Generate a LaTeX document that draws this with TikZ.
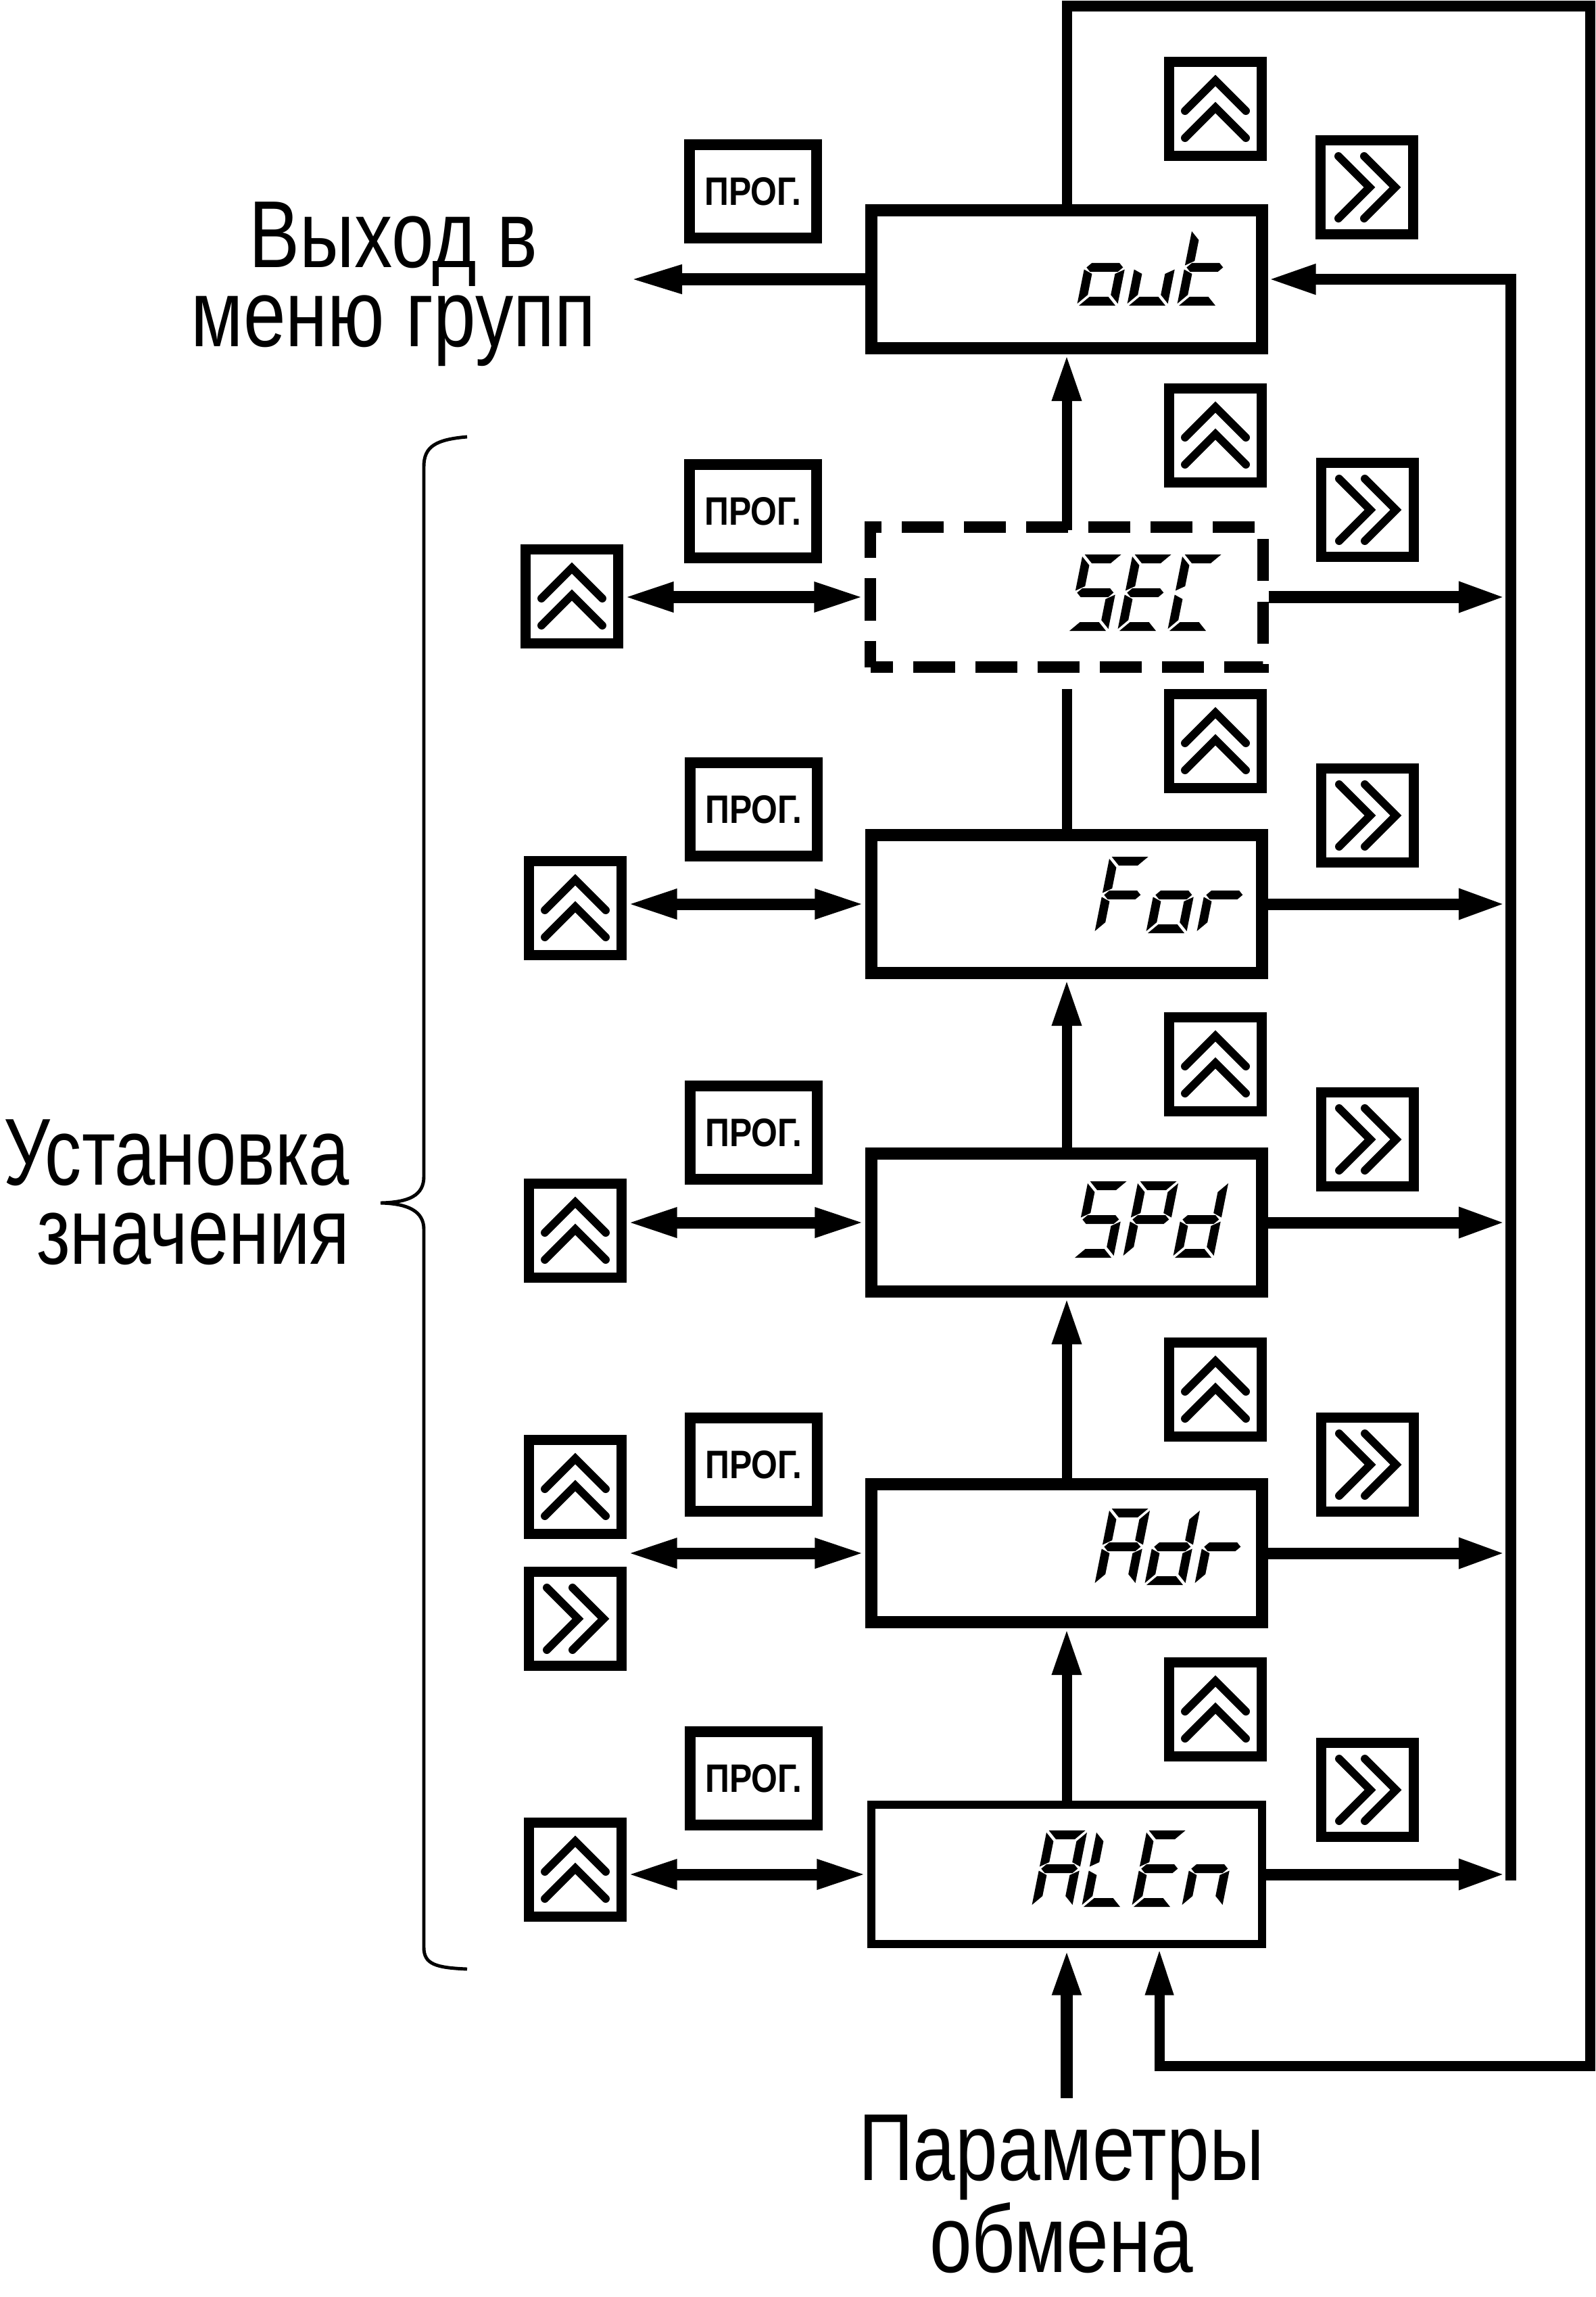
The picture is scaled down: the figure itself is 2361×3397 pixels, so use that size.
\documentclass[tikz,border=0pt]{standalone}
\usepackage{fontspec}
\setmainfont{Liberation Sans}
\newfontfamily\labfont[FakeStretch=0.8]{Liberation Sans}
\newfontfamily\labfontn[FakeStretch=0.77]{Liberation Sans}
\newfontfamily\progfont[FakeStretch=0.85]{Liberation Sans}
\usetikzlibrary{arrows.meta,calc}

% seven-segment pieces (local units, y up)
\newcommand\sgXa{\fill (3,113) -- (57,113) -- (44,100) -- (16,100) -- cycle;}
\newcommand\sgXd{\fill (3,0) -- (57,0) -- (44,13) -- (16,13) -- cycle;}
\newcommand\sgXg{\fill (3,56.5) -- (9.5,63) -- (50.5,63) -- (57,56.5) -- (50.5,50) -- (9.5,50) -- cycle;}
\newcommand\sgXf{\fill (0,110) -- (13,97) -- (13,66) -- (0,59.5) -- cycle;}
\newcommand\sgXe{\fill (0,3) -- (13,16) -- (13,47) -- (0,53.5) -- cycle;}
\newcommand\sgXb{\fill (60,110) -- (47,97) -- (47,66) -- (60,59.5) -- cycle;}
\newcommand\sgXc{\fill (60,3) -- (47,16) -- (47,47) -- (60,53.5) -- cycle;}
\newcommand\segch[3]{\begin{scope}[shift={(#1,#2)},yscale=-1,xslant=-0.2]
  \foreach \s in {#3}{\csname sgX\s\endcsname}\end{scope}}

\newcommand\upchev[1]{%
 \draw[chev] ([shift={(-45,3)}]#1.center) -- ([shift={(0,-42)}]#1.center) -- ([shift={(45,3)}]#1.center);
 \draw[chev] ([shift={(-45,43)}]#1.center) -- ([shift={(0,-2)}]#1.center) -- ([shift={(45,43)}]#1.center);}
\newcommand\rchev[1]{%
 \draw[chev] ([shift={(-42,-46)}]#1.center) -- ([shift={(4,0)}]#1.center) -- ([shift={(-42,46)}]#1.center);
 \draw[chev] ([shift={(-4,-46)}]#1.center) -- ([shift={(42,0)}]#1.center) -- ([shift={(-4,46)}]#1.center);}

\begin{document}
\begin{tikzpicture}[x=0.01cm,y=-0.01cm,
  box/.style={draw, line width=5.1pt, minimum width=5.77cm, minimum height=2.04cm, inner sep=0pt},
  secbox/.style={draw, line width=4.84pt, dash pattern=on 0.62cm off 0.30cm, dash phase=0.29cm,
     minimum width=5.80cm, minimum height=2.07cm, inner sep=0pt},
  icon/.style={draw, line width=4.27pt, minimum width=1.36cm, minimum height=1.38cm, inner sep=0pt},
  prog/.style={draw, line width=4.55pt, minimum width=1.87cm, minimum height=1.37cm, inner sep=0pt,
     font=\progfont\bfseries\fontsize{16.7}{20}\selectfont},
  chev/.style={line width=3.4pt, line cap=round, miter limit=10},
  lab/.style={inner sep=0pt, font=\labfont\fontsize{40}{33.3}\selectfont},
  arr/.style={line width=4.84pt, -{Triangle[length=0.70cm,width=0.41cm]}},
  dbl/.style={line width=4.84pt, {Triangle[length=0.75cm,width=0.40cm]}-{Triangle[length=0.75cm,width=0.40cm]}},
  varr/.style={line width=4.27pt, -{Triangle[length=0.69cm,width=0.40cm]}},
  loopl/.style={line width=4.27pt}
]
\useasboundingbox (0,0) rectangle (2361,3397);

% main boxes
\node[box] (out) at (1578,413) {};
\node[secbox] (SEC) at (1578,883) {};
\node[box] (For) at (1578,1337) {};
\node[box] (SPd) at (1578,1808) {};
\node[box] (Adr) at (1578,2297) {};
\node[box, line width=3.4pt, minimum height=2.05cm] (ALEn) at (1578,2772) {};

% seven-segment texts
\segch{1593}{452}{c,d,e,g}\segch{1667}{452}{c,d,e}\segch{1741}{452}{d,e,f,g}
\segch{1579}{933}{a,f,g,c,d}\segch{1653}{933}{a,f,g,e,d}\segch{1727}{933}{a,f,e,d}
\segch{1619}{1380}{a,f,g,e}\segch{1695}{1380}{c,d,e,g}\segch{1770}{1380}{e,g}
\segch{1587}{1860}{a,f,g,c,d}\segch{1661}{1860}{a,b,f,g,e}\segch{1735}{1860}{b,c,d,e,g}
\segch{1619}{2344}{a,b,c,e,f,g}\segch{1693}{2344}{b,c,d,e,g}\segch{1767}{2344}{e,g}
\segch{1526}{2820}{a,b,c,e,f,g}\segch{1600}{2820}{f,e,d}\segch{1674}{2820}{a,f,g,e,d}\segch{1748}{2820}{c,e,g}

% PROG buttons
\node[prog] (p1) at (1114,283) {ПРОГ.};
\node[prog] (p2) at (1114,756) {ПРОГ.};
\node[prog] (p3) at (1115,1197) {ПРОГ.};
\node[prog] (p4) at (1115,1675) {ПРОГ.};
\node[prog] (p5) at (1115,2166) {ПРОГ.};
\node[prog] (p6) at (1115,2630) {ПРОГ.};

% right-hand up icons
\node[icon] (ru1) at (1798,161) {};
\node[icon] (ru2) at (1798,644) {};
\node[icon] (ru3) at (1798,1096) {};
\node[icon] (ru4) at (1798,1574) {};
\node[icon] (ru5) at (1798,2055) {};
\node[icon] (ru6) at (1798,2528) {};
\foreach \n in {ru1,ru2,ru3,ru4,ru5,ru6}{\upchev{\n}}

% right-hand right icons
\node[icon] (rr1) at (2022,277) {};
\node[icon] (rr2) at (2023,754) {};
\node[icon] (rr3) at (2023,1206) {};
\node[icon] (rr4) at (2023,1685) {};
\node[icon] (rr5) at (2023,2166) {};
\node[icon] (rr6) at (2023,2647) {};
\foreach \n in {rr1,rr2,rr3,rr4,rr5,rr6}{\rchev{\n}}

% left-hand icons
\node[icon] (lu2) at (846,882) {};
\node[icon] (lu3) at (851,1343) {};
\node[icon] (lu4) at (851,1820) {};
\node[icon] (lu5) at (851,2199) {};
\node[icon] (lr5) at (851,2394) {};
\node[icon] (lu6) at (851,2765) {};
\foreach \n in {lu2,lu3,lu4,lu5,lu6}{\upchev{\n}}
\rchev{lr5}

% left double arrows
\draw[dbl] (SEC.west -| lu2.east) -- (SEC.west);
\draw[dbl] (For.west -| lu3.east) -- (For.west);
\draw[dbl] (SPd.west -| lu4.east) -- (SPd.west);
\draw[dbl] (Adr.west -| lu5.east) -- (Adr.west);
\draw[dbl] (ALEn.west -| lu6.east) -- (ALEn.west);

% bus on the right
\coordinate (busT) at (2235,413);
\coordinate (busX) at (2228,0);
\draw[line width=4.5pt, -{Triangle[length=0.71cm,width=0.41cm]}] ($(ALEn.east -| busT)+(0,9)$) -- (busT) -- (out.east);
\foreach \b in {SEC,For,SPd,Adr,ALEn}{\draw[arr] (\b.east) -- (\b.east -| busX);}

% vertical chain
\draw[varr] (ALEn.north) -- (Adr.south);
\draw[varr] (Adr.north) -- (SPd.south);
\draw[varr] (SPd.north) -- (For.south);
\draw[loopl] (For.north) -- ([shift={(0,24)}]SEC.south);
\draw[varr] ([shift={(0,13)}]SEC.north) -- (out.south);

% exit arrow
\coordinate (exitp) at (929,413);
\draw[line width=5pt, -{Triangle[length=0.80cm,width=0.38cm]}] (out.west) -- (exitp);

% outer loop
\coordinate (lt) at (2352,9);
\coordinate (lb) at (2352,3055);
\draw[loopl, -{Triangle[length=0.70cm,width=0.38cm]}] (out.north) |- (lt) -- (lb) -| ([xshift=1.37cm]ALEn.south);

% input
\coordinate (inp) at (1578,3103);
\draw[line width=5pt, -{Triangle[length=0.70cm,width=0.38cm]}] (inp) -- (ALEn.south);

% brace
\draw[line width=1.4pt] (691,646) .. controls (645,650) and (627,660) .. (627,690) -- (627,1740)
  .. controls (627,1768) and (605,1778) .. (563,1779)
  .. controls (605,1780) and (627,1792) .. (627,1818) -- (627,2880)
  .. controls (627,2905) and (645,2910) .. (691,2912);

% labels
\node[lab, align=center] (exit) at (582,420) {Выход в\\меню групп};
\node[lab, font=\labfontn\fontsize{40}{33.3}\selectfont, align=right, anchor=east] (set) at (518,1763) {Установка\\значения};
\node[lab, align=center] (par) at (1570,3245) {Параметры\\обмена};
\end{tikzpicture}
\end{document}
